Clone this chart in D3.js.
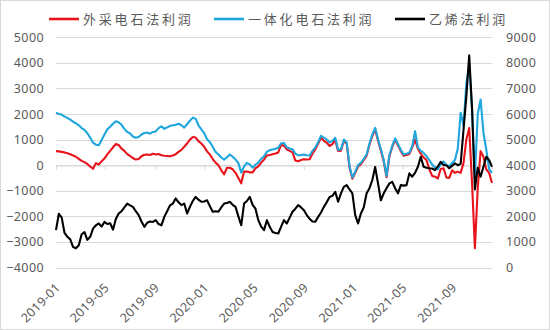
<!DOCTYPE html>
<html>
<head>
<meta charset="utf-8">
<script src="https://cdn.jsdelivr.net/npm/d3@7"></script>
<style>
  html, body { margin: 0; padding: 0; background: #fff; }
  svg { display: block; }
</style>
</head>
<body>
<svg id="chart" width="550" height="330"></svg>
<script>
// Weekly profit series (yuan/ton), first observation and sampling step
const startDate = "2019-01-02";
const stepDays = 7;

// 外采电石法利润 (left axis)
const outsourcedCarbide = [
  550, 540, 520, 500, 470, 430, 380, 330, 250, 170,
  120, 50, -50, -140, 80, 30, 150, 260, 420, 560,
  700, 830, 790, 650, 560, 430, 360, 280, 220, 240,
  350, 410, 420, 400, 450, 420, 440, 390, 370, 360,
  350, 380, 430, 520, 600, 720, 850, 1000, 1100, 1080,
  940, 850, 720, 540, 420, 240, 100, 0, -200, -360,
  -100, -100, -160, -300, -500, -710, -250, -250, -280, -280,
  -120, -50, 100, 220, 380, 400, 430, 460, 500, 800,
  760, 620, 560, 500, 180, 150, 200, 230, 220, 230,
  450, 620, 850, 1070, 950, 880, 750, 820, 980, 560,
  570, 950, 850, -90, -530, -300, -50, 40, 200, 370,
  800, 1150, 1400, 960, 570, 150, -470, 350, 710, 1000,
  780, 550, 370, 400, 440, 700, 1000, 640, 450, 300,
  200, -160, -420, -450, -520, -150, -120, -480, -500, -200,
  -300, -250, -300, 80, 1000, 1450, -700, -3250, -900, 550,
  330, -170, -300, -700
];

// 一体化电石法利润 (left axis)
const integratedCarbide = [
  2050, 2000, 1980, 1900, 1850, 1780, 1700, 1640, 1560, 1450,
  1380, 1250, 1080, 880, 800, 780, 980, 1200, 1400, 1500,
  1620, 1720, 1680, 1580, 1420, 1300, 1240, 1120, 1070, 1100,
  1200, 1260, 1280, 1230, 1300, 1320, 1450, 1520, 1420, 1480,
  1530, 1560, 1580, 1620, 1560, 1470, 1600, 1740, 1860, 1820,
  1560, 1400, 1250, 1020, 900, 720, 520, 420, 300, 220,
  310, 420, 330, 220, 80, -290, -50, 90, 30, -100,
  20, 100, 250, 350, 520, 590, 610, 640, 680, 860,
  870, 700, 650, 620, 450, 380, 400, 420, 390, 380,
  560, 700, 900, 1150, 1080, 1000, 890, 950, 1070, 600,
  620, 1000, 900, -40, -480, -250, 0, 90, 250, 420,
  850, 1200, 1460, 1010, 620, 200, -420, 400, 760, 1050,
  830, 600, 420, 450, 490, 750, 1330, 700, 560, 480,
  350, 200, 30, -80, -170, 50, 150, 0, -40, 90,
  200, 650, 2050, 1550, 3200, 3900, 2200, -450, 2000, 2570,
  1270, 600, -150, -300
];

// 乙烯法利润 (right axis)
const ethylene = [
  1460, 2100, 1950, 1350, 1200, 1100, 800, 750, 870, 1300,
  1380, 1080, 1200, 1520, 1650, 1720, 1600, 1780, 1700, 1730,
  1480, 1900, 2110, 2200, 2350, 2500, 2430, 2370, 2200, 2050,
  1800, 1590, 1750, 1800, 1780, 1850, 1700, 1650, 1980, 2200,
  2430, 2500, 2700, 2550, 2440, 2500, 2110, 2370, 2600, 2760,
  2650, 2570, 2580, 2630, 2400, 2180, 2200, 2180, 2350, 2500,
  2520, 2570, 2450, 2370, 2000, 1650, 2500, 2600, 2760, 2450,
  2300, 1850, 1600, 1460, 1850, 1590, 1390, 1350, 1330, 1600,
  1850, 1720, 1950, 2180, 2300, 2440, 2350, 2240, 2050, 1900,
  1800, 1790, 1980, 2150, 2370, 2550, 2760, 2800, 2960, 2570,
  2900, 3150, 3220, 3050, 2900, 2050, 1720, 2110, 2350, 2900,
  3100, 3420, 3930, 3290, 2630, 2900, 3100, 3290, 3350, 3100,
  2900, 3220, 3200, 3220, 3680, 3550, 3700, 3940, 4330, 3940,
  3900, 3880, 3870, 3810, 3950, 4130, 4000, 4000, 3880, 3980,
  4070, 4000, 4050, 5370, 6700, 8300, 6200, 3050, 3900, 3550,
  3940, 4330, 4200, 3940
];

const seriesNames = ["外采电石法利润", "一体化电石法利润", "乙烯法利润"];
const seriesColors = ["#e8141c", "#1fa6dd", "#000000"];

const tickLabels = ["2019-01", "2019-05", "2019-09", "2020-01", "2020-05",
                    "2020-09", "2021-01", "2021-05", "2021-09"];
const leftTicks = [-4000, -3000, -2000, -1000, 0, 1000, 2000, 3000, 4000, 5000];
const rightTicks = [0, 1000, 2000, 3000, 4000, 5000, 6000, 7000, 8000, 9000];

const parse = d3.timeParse("%Y-%m-%d");
const t0 = parse(startDate);
const dates = outsourcedCarbide.map((_, i) => d3.timeDay.offset(t0, i * stepDays));

const svg = d3.select("#chart");
const W = 550, H = 330;
const plot = { left: 56, right: 492, top: 37.3, bottom: 267.5 };
const textColor = "#595959";
const gridColor = "#d9d9d9";
const numFont = "'Noto Sans', 'Open Sans', sans-serif";

// outer frame
svg.append("rect")
  .attr("x", 0.5).attr("y", 0.5)
  .attr("width", W - 1).attr("height", H - 1)
  .attr("fill", "#fff").attr("stroke", gridColor);

const x = d3.scaleTime()
  .domain([dates[0], dates[dates.length - 1]])
  .range([plot.left, plot.right]);
const yL = d3.scaleLinear().domain([-4000, 5000]).range([plot.bottom, plot.top]);
const yR = d3.scaleLinear().domain([0, 9000]).range([plot.bottom, plot.top]);

// horizontal gridlines
svg.append("g")
  .selectAll("line")
  .data(leftTicks)
  .join("line")
  .attr("x1", plot.left).attr("x2", plot.right)
  .attr("y1", d => Math.round(yL(d)) + 0.5)
  .attr("y2", d => Math.round(yL(d)) + 0.5)
  .attr("stroke", gridColor).attr("stroke-width", 1);

// left axis labels
const leftAxis = svg.append("g")
  .attr("transform", `translate(${plot.left - 12},0)`)
  .call(d3.axisLeft(yL).tickValues(leftTicks).tickSize(0).tickPadding(0).tickFormat(d3.format("d")));
leftAxis.select(".domain").remove();
leftAxis.selectAll("text")
  .attr("fill", textColor).attr("font-size", 12.5).attr("font-family", numFont)
  .attr("letter-spacing", 0.4);

// right axis labels
const rightAxis = svg.append("g")
  .attr("transform", `translate(${plot.right + 14},0)`)
  .call(d3.axisRight(yR).tickValues(rightTicks).tickSize(0).tickPadding(0).tickFormat(d3.format("d")));
rightAxis.select(".domain").remove();
rightAxis.selectAll("text")
  .attr("fill", textColor).attr("font-size", 12.5).attr("font-family", numFont)
  .attr("letter-spacing", 0.4);

// category axis sits on the zero line of the left scale
const tickDates = tickLabels.map(s => parse(s + "-02"));
const zeroY = Math.round(yL(0)) + 0.5;
const xAxis = svg.append("g")
  .attr("transform", `translate(0,${zeroY})`)
  .call(d3.axisBottom(x).tickValues(tickDates).tickSize(4).tickFormat(""));
xAxis.select(".domain").attr("stroke", gridColor);
xAxis.selectAll(".tick line").attr("stroke", gridColor);

// rotated date labels along the bottom
svg.append("g")
  .selectAll("text")
  .data(tickDates)
  .join("text")
  .attr("transform", d => `translate(${x(d) + 5},${plot.bottom + 21}) rotate(-45)`)
  .attr("text-anchor", "end")
  .attr("fill", textColor)
  .attr("font-size", 12.5)
  .attr("font-family", numFont)
  .attr("letter-spacing", 0.3)
  .text((d, i) => tickLabels[i]);

// series lines
const lineL = d3.line().x((d, i) => x(dates[i])).y(d => yL(d));
const lineR = d3.line().x((d, i) => x(dates[i])).y(d => yR(d));

const seriesDefs = [
  { values: outsourcedCarbide, gen: lineL, color: seriesColors[0] },
  { values: integratedCarbide, gen: lineL, color: seriesColors[1] },
  { values: ethylene, gen: lineR, color: seriesColors[2] }
];
svg.append("g")
  .selectAll("path")
  .data(seriesDefs)
  .join("path")
  .attr("d", s => s.gen(s.values))
  .attr("fill", "none")
  .attr("stroke", s => s.color)
  .attr("stroke-width", 2.1)
  .attr("stroke-linejoin", "round");

// legend
const legendItems = [
  { name: seriesNames[0], color: seriesColors[0], x: 49 },
  { name: seriesNames[1], color: seriesColors[1], x: 214 },
  { name: seriesNames[2], color: seriesColors[2], x: 395 }
];
const lg = svg.append("g").selectAll("g").data(legendItems).join("g")
  .attr("transform", d => `translate(${d.x},19)`);
lg.append("line")
  .attr("x1", 0).attr("x2", 30).attr("y1", 0).attr("y2", 0)
  .attr("stroke", d => d.color).attr("stroke-width", 2.6);
lg.append("text")
  .attr("x", 34).attr("y", 0).attr("dy", "0.36em")
  .attr("fill", textColor)
  .attr("font-size", 13)
  .attr("letter-spacing", 2.8)
  .attr("font-family", "'Noto Sans CJK SC', sans-serif")
  .text(d => d.name);
</script>
</body>
</html>
